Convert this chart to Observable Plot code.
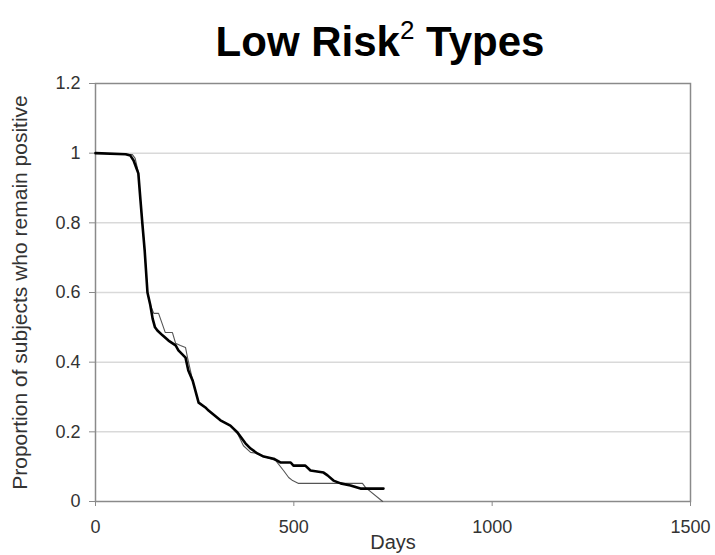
<!DOCTYPE html>
<html>
<head>
<meta charset="utf-8">
<script src="https://cdn.jsdelivr.net/npm/d3@7"></script>
<script src="https://cdn.jsdelivr.net/npm/@observablehq/plot@0.6"></script>
<style>
  body { margin: 0; background: #fff; font-family: "Liberation Sans", Arial, sans-serif; }
  #title { width: 715px; height: 65px; box-sizing: border-box; padding-left: 45px; text-align: center;
    font-size: 42px; font-weight: bold; line-height: 84px; color: #000; white-space: nowrap; }
  #title sup { font-size: 26px; font-weight: normal; vertical-align: 17px; line-height: 0; }
  svg [aria-label="y-axis label"] text { font-size: 21px; }
  svg [aria-label="x-axis label"] text { font-size: 20px; }
</style>
</head>
<body>
<div id="title">Low Risk<sup>2</sup> Types</div>
<div id="chart"></div>
<script>
const yTicks = [0, 0.2, 0.4, 0.6, 0.8, 1.0, 1.2];
const xTicks = [0, 500, 1000, 1500];

// Thick black curve
const thickDays = [0, 76, 88, 96, 108, 113, 118, 124, 131, 138, 144, 150, 156, 169, 184, 202, 209, 227, 234, 245, 260, 277, 285, 315, 340, 358, 378, 391, 408, 424, 449, 466, 492, 499, 529, 542, 575, 585, 600, 618, 643, 668, 726];
const thickVals = [1.0, 0.997, 0.993, 0.979, 0.942, 0.87, 0.80, 0.72, 0.600, 0.565, 0.525, 0.500, 0.491, 0.477, 0.462, 0.448, 0.434, 0.413, 0.376, 0.347, 0.284, 0.270, 0.261, 0.233, 0.218, 0.198, 0.167, 0.152, 0.138, 0.129, 0.123, 0.112, 0.112, 0.103, 0.103, 0.089, 0.083, 0.075, 0.060, 0.052, 0.046, 0.037, 0.037];

// Thin grey curve
const thinDays = [0, 76, 93, 100, 108, 113, 118, 124, 131, 138, 147, 159, 176, 194, 202, 214, 227, 232, 245, 260, 277, 285, 315, 340, 358, 373, 391, 408, 424, 454, 474, 487, 497, 512, 673, 681, 724];
const thinVals = [1.0, 0.997, 0.996, 0.985, 0.945, 0.87, 0.80, 0.72, 0.600, 0.565, 0.540, 0.540, 0.485, 0.485, 0.454, 0.448, 0.442, 0.413, 0.347, 0.284, 0.270, 0.261, 0.233, 0.218, 0.195, 0.160, 0.141, 0.138, 0.129, 0.118, 0.089, 0.069, 0.060, 0.052, 0.052, 0.040, 0];

const thick = thickDays.map((d, i) => ({day: d, p: thickVals[i]}));
const thin = thinDays.map((d, i) => ({day: d, p: thinVals[i]}));

const chart = Plot.plot({
  width: 715,
  height: 490,
  marginTop: 18,
  marginBottom: 54,
  marginLeft: 95,
  marginRight: 25,
  style: {fontFamily: '"Liberation Sans", Arial, sans-serif', fontSize: "18px", color: "#333", background: "#fff"},
  x: {domain: [0, 1500]},
  y: {domain: [0, 1.2]},
  marks: [
    Plot.gridY(yTicks.slice(1, -1), {stroke: "#d9d9d9", strokeOpacity: 1, strokeWidth: 1.5}),
    Plot.frame({stroke: "#8a8a8a", strokeWidth: 1.5}),
    Plot.axisY(yTicks, {
      tickSize: 6, tickPadding: 9, stroke: "#8a8a8a",
      tickFormat: d => String(+d.toFixed(1)),
      label: "Proportion of subjects who remain positive",
      labelAnchor: "center", labelArrow: "none", labelOffset: 83, fill: "#333"
    }),
    Plot.axisX(xTicks, {
      tickSize: 5, tickPadding: 14, stroke: "#8a8a8a",
      tickFormat: d => String(d),
      label: "Days", labelAnchor: "center", labelArrow: "none", labelOffset: 47, fill: "#333"
    }),
    Plot.line(thin, {x: "day", y: "p", stroke: "#555", strokeWidth: 1.1}),
    Plot.line(thick, {x: "day", y: "p", stroke: "#000", strokeWidth: 2.6})
  ]
});
document.getElementById("chart").appendChild(chart);
</script>
</body>
</html>
